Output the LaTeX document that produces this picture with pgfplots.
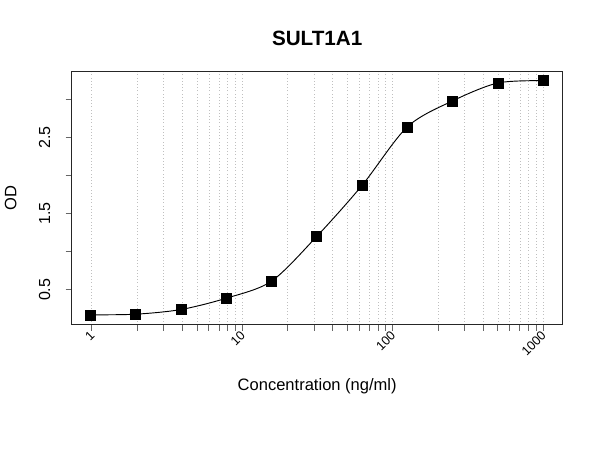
\documentclass[border=0pt]{standalone}
\usepackage{pgfplots}
\pgfplotsset{compat=1.18}
\usepackage{fontspec}
\setmainfont{Liberation Sans}

\begin{document}
\begin{tikzpicture}
% page = 600x450 px at 0.75pt per px
\path[use as bounding box] (-53.775pt,-94.125pt) rectangle (396.225pt,243.375pt);
\begin{axis}[
  at={(0pt,0pt)}, anchor=south west,
  scale only axis,
  width=368.25pt, height=189.6pt,
  xmode=log,
  xmin=0.736, xmax=1348,
  ymin=0.046, ymax=3.361,
  xtick={1,10,100,1000},
  xticklabels={1,10,100,1000},
  minor xtick={2,3,4,5,6,7,8,9,20,30,40,50,60,70,80,90,200,300,400,500,600,700,800,900},
  ytick={0.5,1,1.5,2,2.5,3},
  yticklabels={0.5,,1.5,,2.5,},
  xmajorgrids, xminorgrids,
  major grid style={dotted, gray!50, line width=0.5pt},
  minor grid style={dotted, gray!50, line width=0.5pt},
  tick align=outside,
  major tick length=4.5pt, minor tick length=4.5pt,
  every tick/.style={gray!80!black, line width=0.6pt},
  xtick pos=bottom, ytick pos=left,
  axis line style={black!85, line width=0.9pt},
  xticklabel style={rotate=45, anchor=east, font=\fontsize{9.5}{10}\selectfont, xshift=2pt, yshift=-2pt},
  yticklabel style={rotate=90, anchor=south, font=\fontsize{12}{13}\selectfont, yshift=8pt},
  /pgf/number format/assume math mode=true,
  title={\bfseries SULT1A1},
  title style={font=\fontsize{15.5}{17}\selectfont, yshift=10pt},
  xlabel={Concentration (ng/ml)},
  ylabel={OD},
  label style={font=\fontsize{12.4}{14}\selectfont},
  xlabel style={yshift=-8pt},
  ylabel style={yshift=10pt},
]
\addplot[black, line width=0.7pt, smooth, tension=0.5] coordinates {
  (0.9765625,0.173) (1.953125,0.181) (3.90625,0.242) (7.8125,0.390)
  (15.625,0.613) (31.25,1.200) (62.5,1.869) (125,2.637)
  (250,2.978) (500,3.213) (1000,3.243)
};
\addplot[only marks, mark=square*, mark size=3.75pt, black] coordinates {
  (0.9765625,0.173) (1.953125,0.181) (3.90625,0.242) (7.8125,0.390)
  (15.625,0.613) (31.25,1.200) (62.5,1.869) (125,2.637)
  (250,2.978) (500,3.213) (1000,3.243)
};
\end{axis}
\end{tikzpicture}
\end{document}
